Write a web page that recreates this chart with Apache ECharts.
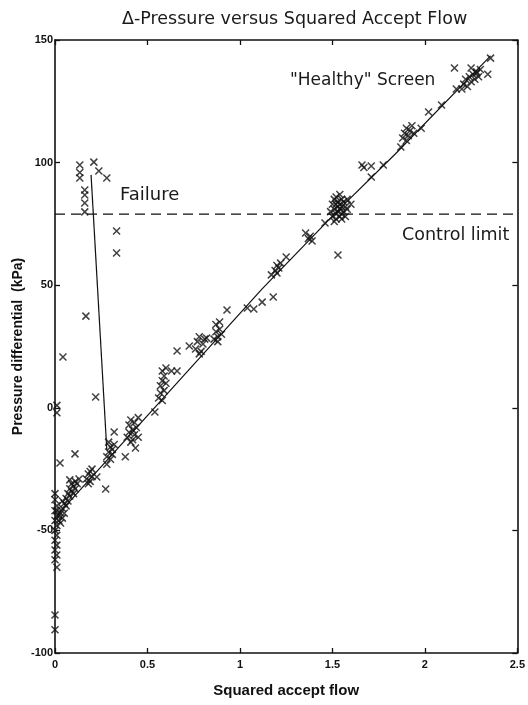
<!DOCTYPE html>
<html>
<head>
<meta charset="utf-8">
<script src="https://cdn.jsdelivr.net/npm/echarts@6/dist/echarts.min.js"></script>
<style>
  html, body { margin: 0; padding: 0; background: #fff; }
  #chart { width: 528px; height: 705px; }
</style>
</head>
<body>
<div id="chart"></div>
<script>
// Axis ticks
const xTicks = [0, 0.5, 1, 1.5, 2, 2.5];
const yTicks = [-100, -50, 0, 50, 100, 150];

// Readings logged at (almost) zero accept flow
const zeroFlowPoints = [
  [0.01, 1], [0.01, -2], [0.0, -35], [0.0, -37.5], [0.01, -40], [0.0, -42],
  [0.01, -44], [0.0, -46], [0.01, -48], [0.0, -50], [0.01, -52], [0.0, -54],
  [0.01, -56], [0.0, -58], [0.01, -60], [0.0, -62], [0.01, -65], [0.0, -84.5], [0.0, -90.5]
];

// Normal operation ("healthy" screen)
const healthyPoints = [
  // low-flow group
  [0.01, -42], [0.02, -44], [0.02, -46], [0.03, -43], [0.03, -47], [0.04, -41], [0.04, -45],
  [0.05, -39], [0.05, -43], [0.06, -40], [0.06, -37], [0.07, -38], [0.07, -35], [0.08, -36],
  [0.08, -33], [0.09, -34], [0.09, -31], [0.1, -32], [0.1, -35], [0.11, -30], [0.11, -33],
  [0.12, -31], [0.13, -29], [0.04, -38], [0.08, -29.4],
  // ~0.19
  [0.17, -29], [0.18, -27], [0.19, -26], [0.2, -28], [0.19, -30], [0.18, -31], [0.2, -25], [0.226, -28.2],
  // ~0.3
  [0.28, -20], [0.29, -18], [0.3, -16], [0.31, -17], [0.3, -21], [0.32, -15], [0.29, -14], [0.31, -19], [0.28, -23],
  // ~0.42
  [0.39, -12], [0.4, -10], [0.4, -7], [0.41, -5], [0.42, -13], [0.42, -9], [0.43, -6], [0.43, -11],
  [0.44, -8], [0.45, -4], [0.45, -12], [0.41, -14],
  // ~0.58
  [0.56, 4], [0.57, 6], [0.57, 9], [0.58, 11], [0.58, 3], [0.59, 7], [0.59, 13], [0.58, 15], [0.6, 10],
  [0.6, 16.2], [0.63, 15], [0.66, 15], [0.66, 23.2], [0.726, 25.2],
  // ~0.78
  [0.76, 24], [0.77, 27], [0.78, 29], [0.79, 23], [0.8, 26], [0.78, 22], [0.81, 28], [0.82, 28.5],
  // ~0.88
  [0.86, 28], [0.87, 31], [0.87, 34], [0.88, 29], [0.89, 32], [0.89, 35], [0.9, 30], [0.88, 27],
  [0.93, 39.9], [1.04, 40.7], [1.075, 40.3], [1.12, 43.1], [1.18, 45.2],
  // ~1.2
  [1.17, 54.2], [1.19, 56], [1.2, 58], [1.21, 57], [1.2, 55], [1.22, 59], [1.25, 61.5],
  [1.355, 71.3], [1.37, 69], [1.38, 70], [1.39, 68], [1.46, 75.4],
  // ~1.53
  [1.49, 80], [1.5, 78], [1.5, 83], [1.51, 81], [1.51, 85], [1.52, 77], [1.52, 79], [1.52, 83],
  [1.52, 86], [1.53, 80], [1.53, 82], [1.53, 84], [1.54, 78], [1.54, 81], [1.54, 83], [1.54, 87],
  [1.55, 79], [1.55, 82], [1.55, 85], [1.56, 80], [1.56, 84], [1.57, 82], [1.58, 81], [1.58, 85],
  [1.6, 83], [1.51, 76], [1.55, 77], [1.57, 78],
  // upper range
  [1.66, 99], [1.67, 98], [1.71, 98.6], [1.775, 99], [1.71, 94.1], [1.87, 106.4],
  [1.88, 110], [1.89, 112], [1.9, 114], [1.91, 111], [1.92, 113], [1.93, 115], [1.94, 112], [1.9, 109],
  [1.98, 114], [2.02, 120.6], [2.09, 123.5], [2.17, 130],
  [2.2, 130], [2.21, 132], [2.22, 134], [2.23, 131], [2.24, 135], [2.25, 133], [2.26, 136],
  [2.27, 134], [2.28, 137], [2.29, 135], [2.3, 138],
  [2.16, 138.6], [2.25, 138.6], [2.28, 136.5], [2.34, 136], [2.355, 142.6]
];

// Scattered readings off the trend
const outlierPoints = [
  [0.108, -18.8], [0.027, -22.5], [0.274, -33.1], [0.32, -9.9], [0.38, -20], [0.435, -16.4],
  [0.54, -1.7], [1.53, 62.3]
];

// Readings around the screen failure
const failurePoints = [
  [0.134, 99], [0.134, 96], [0.134, 93.7], [0.161, 88.8], [0.161, 86.8], [0.161, 83.5], [0.161, 79.9],
  [0.21, 100.2], [0.237, 96.6], [0.28, 93.7], [0.333, 72.1], [0.333, 63.1],
  [0.167, 37.4], [0.043, 20.7], [0.22, 4.4]
];

// Trend line for the healthy screen
const fitLine = [[0.01, -44], [0.55, 1], [1.12, 48.5], [1.53, 80.5], [1.84, 103.5], [2.355, 143.5]];
// Jump at failure
const failureLine = [[0.195, 95], [0.28, -17]];
// Alarm threshold (kPa)
const controlLimit = 79;

const xMark = 'path://M0,0L10,10M0,10L10,0';
const markStyle = { color: '#000', borderColor: '#111', borderWidth: 1.5 };

const chart = echarts.init(document.getElementById('chart'), null, { renderer: 'canvas' });

const tickFont = { color: '#111', fontFamily: 'Liberation Sans, Arial, sans-serif', fontWeight: 'bold', fontSize: 11 };
const axisLine = { show: true, onZero: false, lineStyle: { color: '#111', width: 1.6 } };
const tick = { show: true, inside: true, length: 5, lineStyle: { color: '#111', width: 1.3 } };

chart.setOption({
  animation: false,
  backgroundColor: '#fff',
  title: {
    text: 'Δ-Pressure versus Squared Accept Flow',
    left: 117, top: 5,
    textStyle: { fontFamily: 'DejaVu Sans', fontWeight: 'normal', fontSize: 17.5, color: '#1a1a1a' }
  },
  grid: { left: 55, right: 8, top: 40, bottom: 52 },
  xAxis: [
    {
      type: 'value', min: xTicks[0], max: xTicks[xTicks.length - 1], interval: 0.5,
      axisLine, axisTick: tick, splitLine: { show: false },
      axisLabel: Object.assign({ margin: 6, formatter: v => String(v) }, tickFont),
      name: 'Squared accept flow', nameLocation: 'middle', nameGap: 30, nameMoveOverlap: false,
      nameTextStyle: { fontFamily: 'Liberation Sans, Arial, sans-serif', fontWeight: 'bold', fontSize: 15, color: '#111' }
    },
    {
      type: 'value', position: 'top', min: xTicks[0], max: xTicks[xTicks.length - 1], interval: 0.5,
      axisLine, axisTick: tick, axisLabel: { show: false }, splitLine: { show: false }
    }
  ],
  yAxis: [
    {
      type: 'value', min: yTicks[0], max: yTicks[yTicks.length - 1], interval: 50,
      axisLine, axisTick: tick, splitLine: { show: false },
      axisLabel: Object.assign({ margin: 2 }, tickFont),
      name: 'Pressure differential  (kPa)', nameLocation: 'middle', nameGap: 30, nameMoveOverlap: false,
      nameTextStyle: { fontFamily: 'Liberation Sans, Arial, sans-serif', fontWeight: 'bold', fontSize: 14, color: '#111' }
    },
    {
      type: 'value', position: 'right', min: yTicks[0], max: yTicks[yTicks.length - 1], interval: 50,
      axisLine, axisTick: tick, axisLabel: { show: false }, splitLine: { show: false }
    }
  ],
  graphic: [
    { type: 'text', left: 120, top: 186, style: { text: 'Failure', font: '18px "DejaVu Sans"', fill: '#1a1a1a' } },
    { type: 'text', left: 402, top: 226, style: { text: 'Control limit', font: '17.5px "DejaVu Sans"', fill: '#1a1a1a' } },
    { type: 'text', left: 290, top: 72, style: { text: '"Healthy" Screen', font: '17px "DejaVu Sans"', fill: '#1a1a1a' } }
  ],
  series: [
    {
      type: 'line', data: [[xTicks[0], controlLimit], [xTicks[xTicks.length - 1], controlLimit]],
      symbol: 'none', silent: true,
      lineStyle: { color: '#111', width: 1.3, type: [10, 6] }
    },
    {
      type: 'line', data: fitLine, symbol: 'none', silent: true,
      lineStyle: { color: '#111', width: 1.2 }
    },
    {
      type: 'line', data: failureLine, symbol: 'none', silent: true,
      lineStyle: { color: '#111', width: 1.2 }
    },
    {
      type: 'scatter', data: zeroFlowPoints.concat(healthyPoints, outlierPoints, failurePoints),
      symbol: xMark, symbolSize: 7, itemStyle: markStyle
    }
  ]
});
</script>
</body>
</html>
